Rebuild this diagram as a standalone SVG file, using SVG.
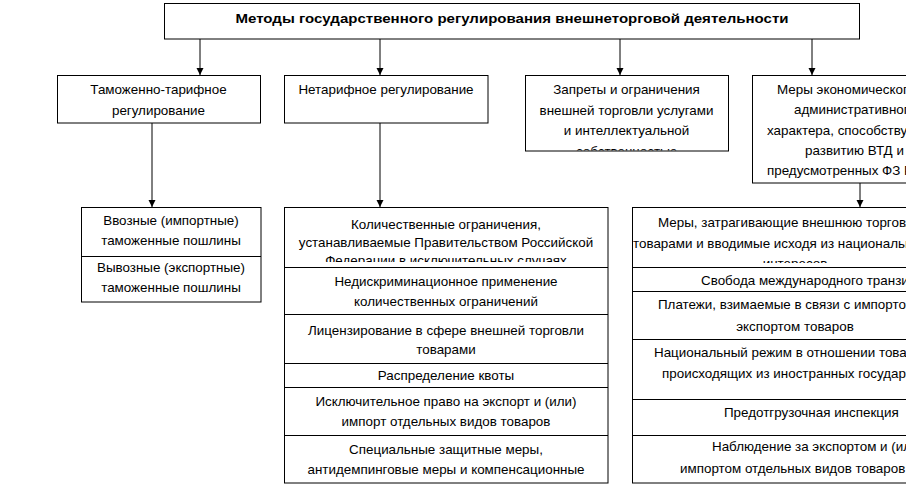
<svg xmlns="http://www.w3.org/2000/svg" width="906" height="486" viewBox="0 0 906 486">
<defs>
<style>
.b{fill:#fff;stroke:#000;stroke-width:1}
.d{stroke:#000;stroke-width:1;fill:none}
.t{font-family:"Liberation Sans",Arial,sans-serif;font-size:13.4px;fill:#000;text-anchor:middle}
.s{text-anchor:start}
.h{font-family:"Liberation Sans",Arial,sans-serif;font-size:13.4px;font-weight:bold;fill:#000;text-anchor:middle}
.c{stroke:#000;stroke-width:1;fill:none;marker-end:url(#ah)}
</style>
<marker id="ah" markerUnits="userSpaceOnUse" markerWidth="8" markerHeight="8" refX="7" refY="3.5" orient="auto">
<path d="M0,0 L7,3.5 L0,7 z" fill="#000"/>
</marker>
<clipPath id="cp1"><rect x="284" y="207" width="324" height="55"/></clipPath>
<clipPath id="cp2"><rect x="525" y="75" width="203" height="75.5"/></clipPath>
<clipPath id="cp3"><rect x="632" y="207" width="330" height="56"/></clipPath>
</defs>
<rect width="906" height="486" fill="#fff"/>

<g id="connectors">
<line class="c" x1="200" y1="39" x2="200" y2="75"/>
<line class="c" x1="380" y1="39" x2="380" y2="75"/>
<line class="c" x1="620" y1="39" x2="620" y2="75"/>
<line class="c" x1="812" y1="39" x2="812" y2="75"/>
<line class="c" x1="152" y1="123" x2="152" y2="207"/>
<line class="c" x1="380" y1="123" x2="380" y2="207"/>
<line class="c" x1="860" y1="183" x2="860" y2="207"/>
</g>

<g id="title">
<rect class="b" x="164.5" y="3.5" width="695" height="35.5"/>
<text class="h" x="512" y="23" textLength="553" lengthAdjust="spacingAndGlyphs">Методы государственного регулирования внешнеторговой деятельности</text>
</g>

<g id="customs-tariff">
<rect class="b" x="57.5" y="75.5" width="203" height="47.5"/>
<text class="t" x="158.5" y="94">Таможенно-тарифное</text>
<text class="t" x="158.5" y="114.5">регулирование</text>
</g>

<g id="non-tariff">
<rect class="b" x="284.5" y="75.5" width="203.5" height="47.5"/>
<text class="t" x="386" y="94">Нетарифное регулирование</text>
</g>

<g id="bans">
<rect class="b" x="525.5" y="75.5" width="203" height="75.5"/>
<g clip-path="url(#cp2)">
<text class="t" x="626.5" y="94">Запреты и ограничения</text>
<text class="t" x="626.5" y="114.5">внешней торговли услугами</text>
<text class="t" x="626.5" y="135">и интеллектуальной</text>
<text class="t" x="626.5" y="155.5">собственностью</text>
</g>
</g>

<g id="economic-measures">
<rect class="b" x="752.5" y="75.5" width="220" height="107.5"/>
<text class="t s" x="777" y="94">Меры экономического и</text>
<text class="t s" x="794" y="114">административного</text>
<text class="t s" x="767" y="134.5">характера, способствующие</text>
<text class="t s" x="805" y="155">развитию ВТД и</text>
<text class="t s" x="767" y="175">предусмотренных ФЗ РФ</text>
</g>

<g id="duties">
<rect class="b" x="81.5" y="207.5" width="179.5" height="94.5"/>
<line class="d" x1="81.5" y1="256.5" x2="261" y2="256.5"/>
<text class="t" x="171" y="224.5">Ввозные (импортные)</text>
<text class="t" x="171" y="244.5">таможенные пошлины</text>
<text class="t" x="171" y="272">Вывозные (экспортные)</text>
<text class="t" x="171" y="291.5">таможенные пошлины</text>
</g>

<g id="non-tariff-list">
<rect class="b" x="284.5" y="207.5" width="323.5" height="275.5"/>
<line class="d" x1="284.5" y1="267.5" x2="608" y2="267.5"/>
<line class="d" x1="284.5" y1="314.5" x2="608" y2="314.5"/>
<line class="d" x1="284.5" y1="363.5" x2="608" y2="363.5"/>
<line class="d" x1="284.5" y1="387.5" x2="608" y2="387.5"/>
<line class="d" x1="284.5" y1="435.5" x2="608" y2="435.5"/>
<g clip-path="url(#cp1)">
<text class="t" x="446" y="228.5">Количественные ограничения,</text>
<text class="t" x="446" y="246.5">устанавливаемые Правительством Российской</text>
<text class="t" x="446" y="264.5">Федерации в исключительных случаях</text>
</g>
<text class="t" x="446" y="285.5">Недискриминационное применение</text>
<text class="t" x="446" y="306">количественных ограничений</text>
<text class="t" x="446" y="334.5">Лицензирование в сфере внешней торговли</text>
<text class="t" x="446" y="353.5">товарами</text>
<text class="t" x="446" y="380">Распределение квоты</text>
<text class="t" x="446" y="406">Исключительное право на экспорт и (или)</text>
<text class="t" x="446" y="426">импорт отдельных видов товаров</text>
<text class="t" x="446" y="453.5">Специальные защитные меры,</text>
<text class="t" x="446" y="473.5">антидемпинговые меры и компенсационные</text>
</g>

<g id="economic-list">
<rect class="b" x="632.5" y="207.5" width="330" height="275.5"/>
<line class="d" x1="632.5" y1="267.5" x2="906" y2="267.5"/>
<line class="d" x1="632.5" y1="291.5" x2="906" y2="291.5"/>
<line class="d" x1="632.5" y1="339.5" x2="906" y2="339.5"/>
<line class="d" x1="632.5" y1="399.5" x2="906" y2="399.5"/>
<line class="d" x1="632.5" y1="435.5" x2="906" y2="435.5"/>
<g clip-path="url(#cp3)">
<text class="t s" x="658" y="227">Меры, затрагивающие внешнюю торговлю</text>
<text class="t s" x="633" y="248">товарами и вводимые исходя из национальных</text>
<text class="t" x="795" y="268">интересов</text>
</g>
<text class="t s" x="701" y="284.5">Свобода международного транзита</text>
<text class="t s" x="658" y="308.5">Платежи, взимаемые в связи с импортом или</text>
<text class="t" x="795" y="330.5">экспортом товаров</text>
<text class="t s" x="654" y="357">Национальный режим в отношении товаров,</text>
<text class="t s" x="662" y="378">происходящих из иностранных государств</text>
<text class="t s" x="724" y="417">Предотгрузочная инспекция</text>
<text class="t s" x="712" y="450.5">Наблюдение за экспортом и (или)</text>
<text class="t s" x="680" y="472.5">импортом отдельных видов товаров</text>
</g>
</svg>
